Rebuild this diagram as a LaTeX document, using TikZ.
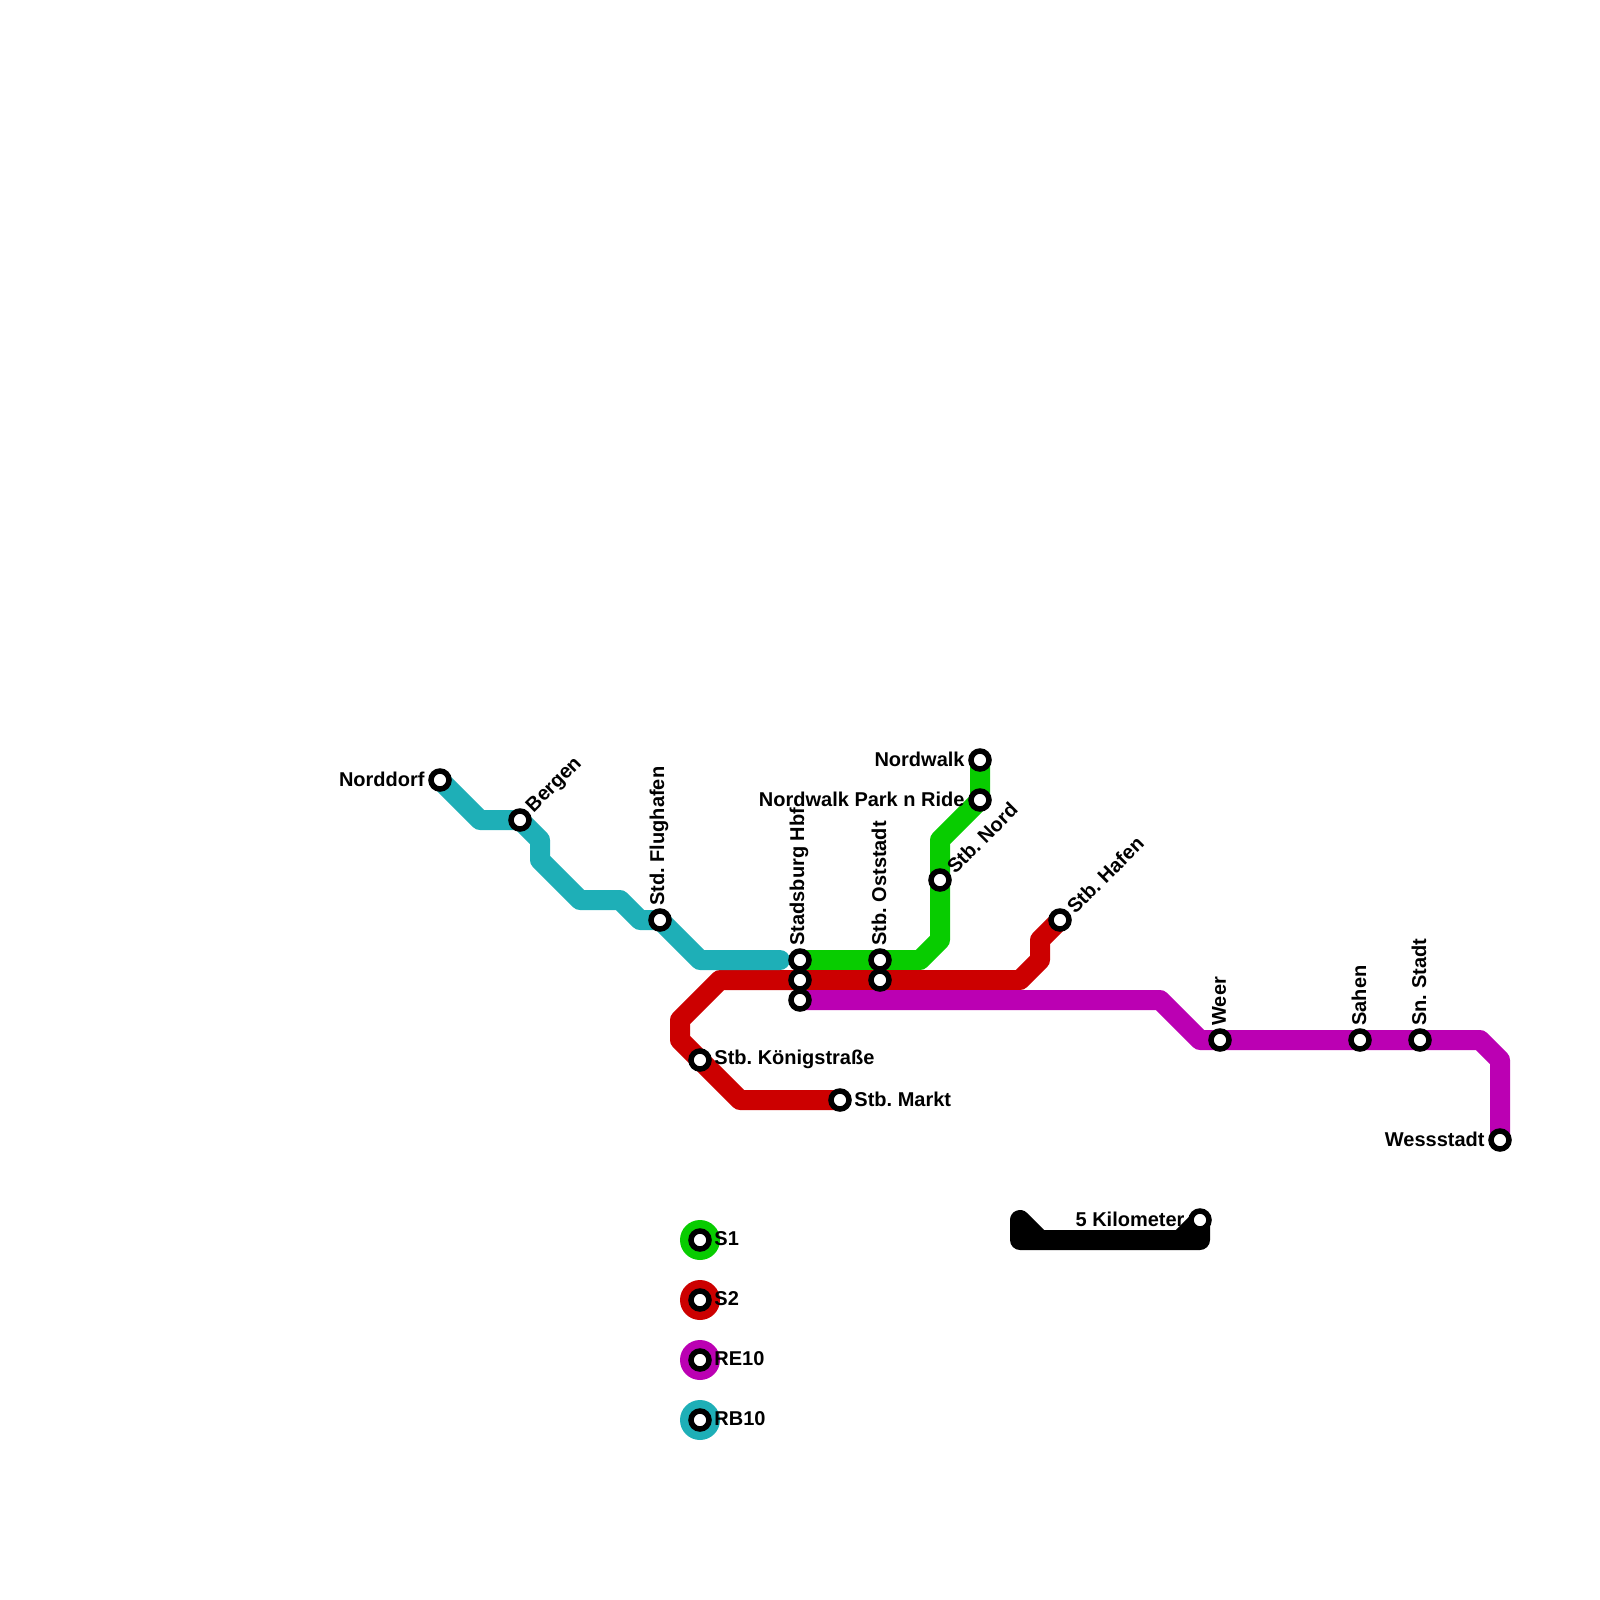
\documentclass[tikz,border=0pt]{standalone}
\usepackage{fontspec}
\setmainfont{Liberation Sans}
\usetikzlibrary{positioning,backgrounds}
\definecolor{sone}{RGB}{8,204,0}
\definecolor{stwo}{RGB}{204,0,0}
\definecolor{reten}{RGB}{187,0,179}
\definecolor{rbten}{RGB}{30,175,183}
\frenchspacing

\begin{document}
\begin{tikzpicture}[font=\bfseries\fontsize{5.69pt}{7pt}\selectfont,x=0.2cm,y=-0.2cm]
    \tikzset{
        stn/.style={
            draw=black,fill=white,circle,line width=0.055cm,
            minimum size=0.18cm,inner sep=0pt
        },
        route/.style={line width=0.2cm,line cap=round,line join=round},
        lgd/.style={circle,minimum size=0.4cm,inner sep=0pt},
        lbl/.style={inner sep=0pt,yshift=0.01cm},
        upl/.style={inner sep=0pt,rotate=90,anchor=west,xshift=-0.03cm,yshift=0.01cm},
        dia/.style={inner sep=0pt,rotate=45,anchor=west,xshift=-0.02cm}
    }
    \useasboundingbox (0,0) rectangle (80,80);

    % RB10
    \node[stn] (norddorf) at (22,39) {};
    \node[stn] (bergen) at (26,41) {};
    \node[stn] (flughafen) at (33,46) {};
    \node[lbl,left=0.03cm of norddorf] (norddorflbl) {Norddorf};
    \node[dia,above right=0.04cm of bergen,anchor=west] (bergenlbl) {Bergen};
    \node[upl,above=0.05cm of flughafen,anchor=west] (flughafenlbl) {Std. Flughafen};

    % S1
    \node[stn] (nordwalk) at (49,38) {};
    \node[stn] (parkride) at (49,40) {};
    \node[stn] (nord) at (47,44) {};
    \node[stn] (hbfa) at (40,48) {};
    \node[stn] (oststadta) at (44,48) {};
    \node[lbl,left=0.03cm of nordwalk] (nordwalklbl) {Nordwalk};
    \node[lbl,left=0.03cm of parkride] (parkridelbl) {Nordwalk Park n Ride};
    \node[dia,above right=0.04cm of nord,anchor=west] (nordlbl) {Stb. Nord};
    \node[upl,above=0.05cm of hbfa,anchor=west] (hbflbl) {Stadsburg Hbf};
    \node[upl,above=0.05cm of oststadta,anchor=west] (oststadtlbl) {Stb. Oststadt};

    % S2
    \node[stn] (hafen) at (53,46) {};
    \node[stn] (hbfb) at (40,49) {};
    \node[stn] (oststadtb) at (44,49) {};
    \node[stn] (koenig) at (35,53) {};
    \node[stn] (markt) at (42,55) {};
    \node[dia,above right=0.04cm of hafen,anchor=west] (hafenlbl) {Stb. Hafen};
    \node[lbl,right=0.02cm of koenig] (koeniglbl) {Stb. Königstraße};
    \node[lbl,right=0.02cm of markt] (marktlbl) {Stb. Markt};

    % RE10
    \node[stn] (hbfc) at (40,50) {};
    \node[stn] (weer) at (61,52) {};
    \node[stn] (sahen) at (68,52) {};
    \node[stn] (snstadt) at (71,52) {};
    \node[stn] (wessstadt) at (75,57) {};
    \node[upl,above=0.05cm of weer,anchor=west] (weerlbl) {Weer};
    \node[upl,above=0.05cm of sahen,anchor=west] (sahenlbl) {Sahen};
    \node[upl,above=0.05cm of snstadt,anchor=west] (snstadtlbl) {Sn. Stadt};
    \node[lbl,left=0.03cm of wessstadt] (wessstadtlbl) {Wessstadt};

    % scale
    \node[stn] (kilometer) at (60,61) {};
    \node[lbl,left=0.03cm of kilometer] (kilometerlbl) {5 Kilometer};

    % legend
    \foreach \name/\colour/\ypos/\txt in {
        one/sone/62/S1,two/stwo/65/S2,three/reten/68/RE10,four/rbten/71/RB10}{
        \node[stn] (key\name) at (35,\ypos) {};
        \node[lbl,right=0.02cm of key\name] (key\name lbl) {\txt};
        \begin{scope}[on background layer]
            \node[lgd,fill=\colour] at (key\name) {};
        \end{scope}
    }

    \begin{scope}[on background layer]
        \draw[route,sone] (nordwalk.center) -- (parkride.center) -- (47,42) -- (nord.center)
            -- (47,47) -- (46,48) -- (oststadta.center) -- (hbfa.center);
        \draw[route,stwo] (hafen.center) -- (52,47) -- (52,48) -- (51,49) -- (oststadtb.center)
            -- (hbfb.center) -- (36,49) -- (34,51) -- (34,52) -- (koenig.center) -- (37,55)
            -- (markt.center);
        \draw[route,reten] (hbfc.center) -- (58,50) -- (60,52) -- (weer.center) -- (sahen.center)
            -- (snstadt.center) -- (74,52) -- (75,53) -- (wessstadt.center);
        \draw[route,rbten] (norddorf.center) -- (24,41) -- (bergen.center) -- (27,42) -- (27,43)
            -- (29,45) -- (31,45) -- (32,46) -- (flughafen.center) -- (35,48) -- (39,48);
        \draw[route,black] (51,61) -- (52,62) -- (59,62) -- (kilometer.center) -- (60,62)
            -- (51,62) -- cycle;
    \end{scope}
\end{tikzpicture}
\end{document}
